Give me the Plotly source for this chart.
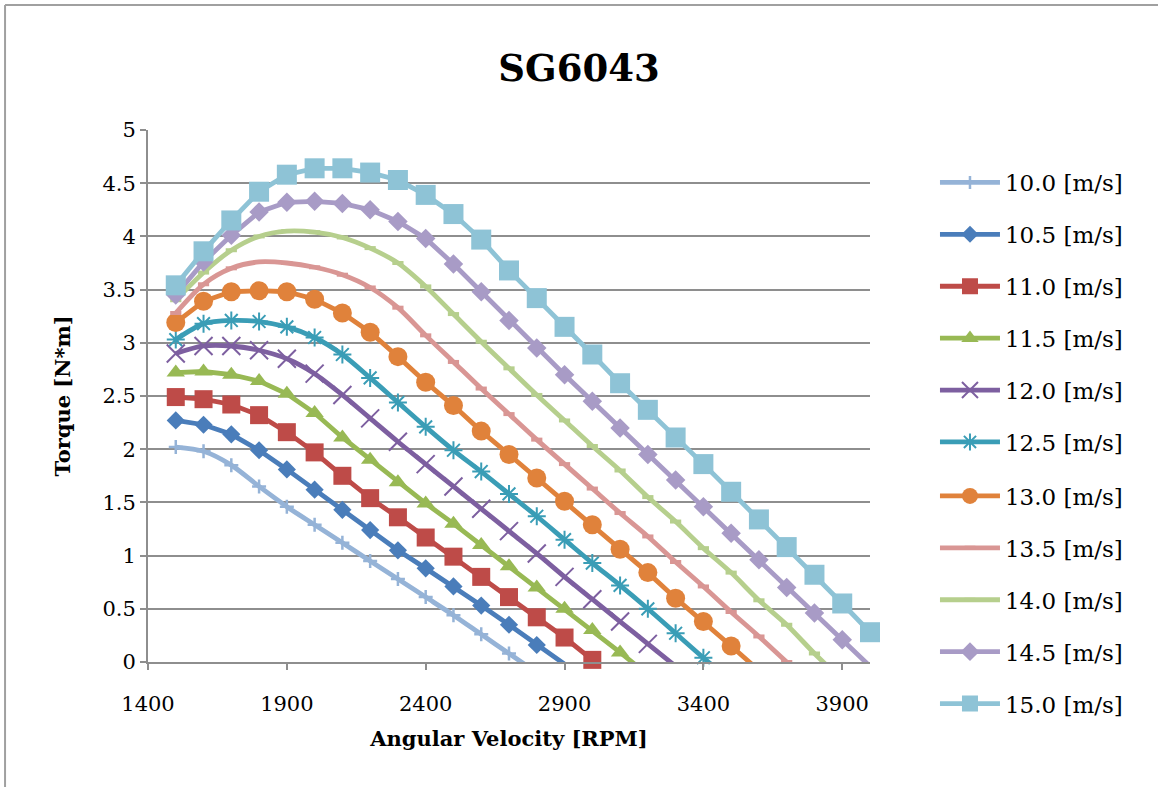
import plotly.graph_objects as go

rpm = [1500, 1600, 1700, 1800, 1900, 2000, 2100, 2200, 2300, 2400, 2500, 2600, 2700,
       2800, 2900, 3000, 3100, 3200, 3300, 3400, 3500, 3600, 3700, 3800, 3900, 4000]

s10_0 = [2.02, 1.98, 1.85, 1.65, 1.46, 1.29, 1.12, 0.95, 0.78, 0.61, 0.44, 0.26, 0.08, -0.10]
s10_5 = [2.27, 2.23, 2.14, 1.99, 1.81, 1.62, 1.43, 1.24, 1.05, 0.88, 0.71, 0.53, 0.35, 0.16, -0.02]
s11_0 = [2.49, 2.47, 2.42, 2.32, 2.16, 1.97, 1.75, 1.54, 1.36, 1.17, 0.99, 0.80, 0.61, 0.42,
         0.23, 0.02, -0.17]
s11_5 = [2.72, 2.73, 2.70, 2.64, 2.52, 2.34, 2.11, 1.90, 1.69, 1.49, 1.30, 1.10, 0.90, 0.70,
         0.50, 0.30, 0.09, -0.12]
s12_0 = [2.90, 2.97, 2.97, 2.93, 2.85, 2.71, 2.51, 2.29, 2.07, 1.86, 1.65, 1.44, 1.23, 1.02,
         0.80, 0.59, 0.38, 0.17, -0.04]
s12_5 = [3.03, 3.18, 3.21, 3.20, 3.15, 3.05, 2.89, 2.67, 2.44, 2.21, 1.99, 1.79, 1.58, 1.37,
         1.15, 0.93, 0.72, 0.50, 0.27, 0.04, -0.18]
s13_0 = [3.19, 3.39, 3.48, 3.49, 3.48, 3.41, 3.28, 3.10, 2.87, 2.63, 2.41, 2.17, 1.95, 1.73,
         1.51, 1.29, 1.06, 0.84, 0.60, 0.38, 0.15, -0.08]
s13_5 = [3.28, 3.55, 3.70, 3.76, 3.75, 3.71, 3.64, 3.52, 3.33, 3.07, 2.82, 2.57, 2.33, 2.09,
         1.86, 1.63, 1.40, 1.18, 0.94, 0.71, 0.47, 0.24, 0.00, -0.23]
s14_0 = [3.40, 3.66, 3.87, 4.00, 4.05, 4.04, 3.99, 3.89, 3.75, 3.53, 3.27, 3.01, 2.76, 2.51,
         2.27, 2.03, 1.80, 1.55, 1.32, 1.07, 0.84, 0.58, 0.35, 0.08, -0.17]
s14_5 = [3.45, 3.76, 4.01, 4.23, 4.32, 4.33, 4.31, 4.25, 4.14, 3.98, 3.74, 3.48, 3.21, 2.95,
         2.70, 2.45, 2.20, 1.95, 1.71, 1.46, 1.21, 0.96, 0.70, 0.46, 0.21, -0.04]
s15_0 = [3.54, 3.86, 4.15, 4.42, 4.58, 4.64, 4.64, 4.60, 4.53, 4.39, 4.21, 3.97, 3.68, 3.42,
         3.15, 2.89, 2.62, 2.37, 2.11, 1.86, 1.60, 1.34, 1.08, 0.82, 0.55, 0.28]

series_names = ["10.0 [m/s]", "10.5 [m/s]", "11.0 [m/s]", "11.5 [m/s]", "12.0 [m/s]",
                "12.5 [m/s]", "13.0 [m/s]", "13.5 [m/s]", "14.0 [m/s]", "14.5 [m/s]",
                "15.0 [m/s]"]
series_vals = [s10_0, s10_5, s11_0, s11_5, s12_0, s12_5, s13_0, s13_5, s14_0, s14_5, s15_0]

# style: color, symbol, size, open(thin) marker, marker line width, line shape
styles = [
    ("#95B3D7", "cross-thin", 10, True, 2.5, "spline"),
    ("#4A7DBA", "diamond", 14, False, 0, "linear"),
    ("#BE4B48", "square", 18, False, 0, "linear"),
    ("#98B954", "triangle-up", 16, False, 0, "linear"),
    ("#7D5FA0", "x-thin", 18, True, 2, "spline"),
    ("#3A9DB6", "asterisk", 15, True, 2, "spline"),
    ("#E0823B", "circle", 19, False, 0, "linear"),
    ("#D99694", "line-ew", 8, True, 4, "spline"),
    ("#B6CF8D", "line-ew", 8, True, 4, "spline"),
    ("#A89BC6", "diamond", 15, False, 0, "linear"),
    ("#8EC3D6", "square", 20, False, 0, "linear"),
]

FONT = "DejaVu Serif"
GRID = "#8E8E8E"

fig = go.Figure()
for i, (name, vals, (col, sym, size, thin, mlw, shape)) in enumerate(
        zip(series_names, series_vals, styles)):
    xs = rpm[:len(vals)]
    sizes = [size if v >= 0 else 0 for v in vals]
    marker = dict(symbol=sym, size=sizes, color=col, opacity=1)
    if thin:
        marker["line"] = dict(color=col, width=mlw)
    else:
        marker["line"] = dict(width=0)
    fig.add_trace(go.Scatter(
        x=xs, y=vals, name=name, mode="lines+markers",
        line=dict(color=col, width=4.8, shape=shape, smoothing=0.8),
        marker=marker, cliponaxis=False, legendgroup=name,
        legend="legend" if i < 6 else "legend2",
    ))

legend_common = dict(x=1.09, xanchor="left", yanchor="top",
                     font=dict(family=FONT, size=23), itemwidth=60,
                     tracegroupgap=19, bgcolor="rgba(0,0,0,0)", borderwidth=0)

fig.update_layout(
    width=1158, height=787,
    margin=dict(l=148, r=288, t=130, b=125, autoexpand=False),
    paper_bgcolor="white", plot_bgcolor="white",
    font=dict(family=FONT, color="black", size=20),
    title=dict(text="<b>SG6043</b>", x=0.5, xref="container", y=1 - 68 / 787,
               yref="container", xanchor="center", yanchor="middle",
               font=dict(family=FONT, size=37, color="black")),
    xaxis=dict(range=[1400, 4000], tick0=1400, dtick=500, showgrid=False,
               showline=True, linecolor=GRID, linewidth=2, ticks="outside",
               ticklen=6, tickcolor=GRID, tickwidth=2, zeroline=False,
               tickfont=dict(family=FONT, size=21), ticklabelstandoff=16,
               title=dict(text="<b>Angular Velocity [RPM]</b>", standoff=16,
                          font=dict(family=FONT, size=21))),
    yaxis=dict(range=[0, 5], tick0=0, dtick=0.5, showgrid=True, gridcolor=GRID,
               gridwidth=2, showline=True, linecolor=GRID, linewidth=2,
               ticks="outside", ticklen=6, tickcolor=GRID, tickwidth=2, zeroline=False,
               tickfont=dict(family=FONT, size=21),
               title=dict(text="<b>Torque [N*m]</b>", standoff=26,
                          font=dict(family=FONT, size=21))),
    legend=dict(y=(662 - 161) / 532, **legend_common),
    legend2=dict(y=(662 - 474.5) / 532, **legend_common),
    showlegend=True,
)

# outer chart frame (left and top edges visible)
fig.add_shape(type="line", xref="paper", yref="paper", x0=-0.198, x1=-0.198,
              y0=-0.24, y1=1.235, line=dict(color="#A0A0A0", width=2))
fig.add_shape(type="line", xref="paper", yref="paper", x0=-0.198, x1=1.41,
              y0=1.235, y1=1.235, line=dict(color="#A0A0A0", width=2))

fig.write_html("out.html")
